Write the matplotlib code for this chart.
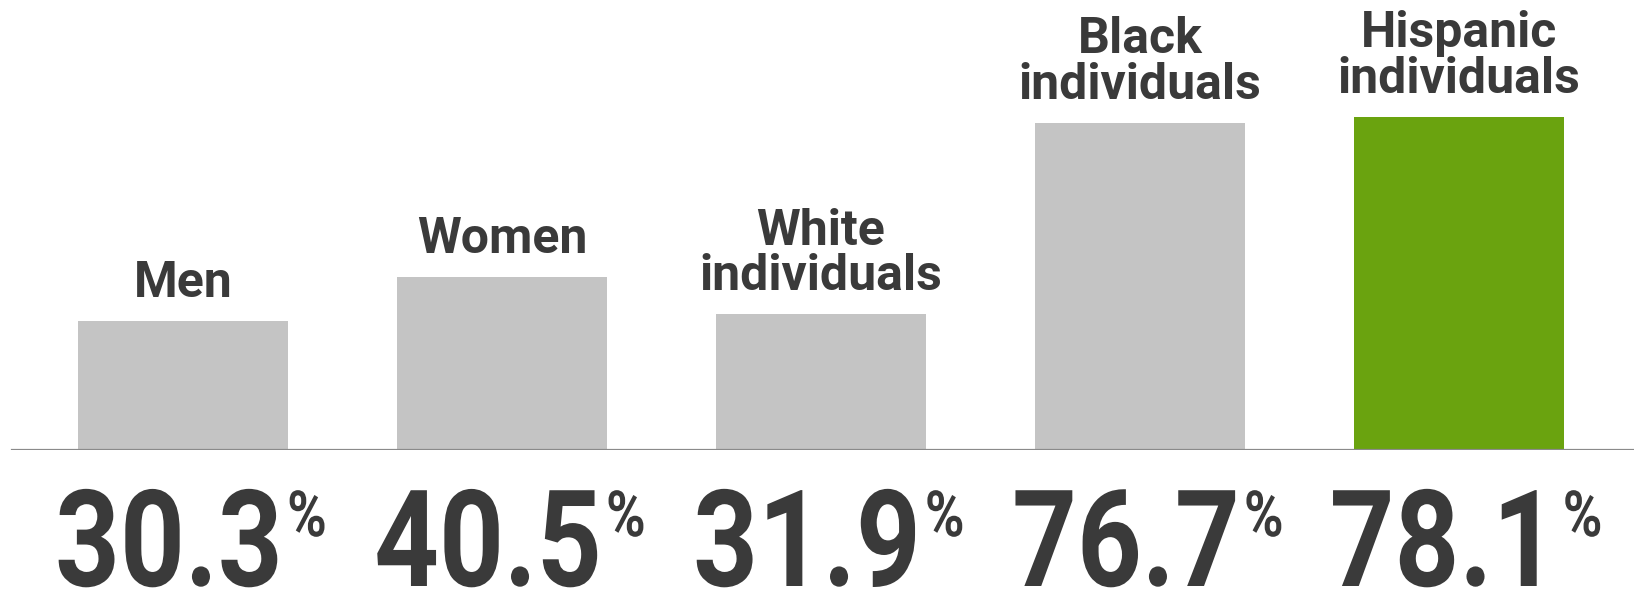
import matplotlib
matplotlib.use("Agg")
import matplotlib.pyplot as plt
from matplotlib.patheffects import AbstractPathEffect
from matplotlib.transforms import Affine2D

categories = ["Men", "Women", "White\nindividuals", "Black\nindividuals", "Hispanic\nindividuals"]
values = [30.3, 40.5, 31.9, 76.7, 78.1]
value_labels = ["30.3", "40.5", "31.9", "76.7", "78.1"]
highlight = [False, False, False, False, True]


class HCompress(AbstractPathEffect):
    """Squeeze a text horizontally about its centre (condensed look)."""

    def __init__(self, sx):
        super().__init__()
        self.sx = sx

    def draw_path(self, renderer, gc, tpath, affine, rgbFace=None):
        ext = tpath.get_extents(affine)
        cx = 0.5 * (ext.x0 + ext.x1)
        new = affine + Affine2D().translate(-cx, 0).scale(self.sx, 1).translate(cx, 0)
        renderer.draw_path(gc, tpath, new, rgbFace)


W, H, DPI = 1634, 592, 100
fig = plt.figure(figsize=(W / DPI, H / DPI), dpi=DPI)
fig.patch.set_facecolor("white")

base_px = 450  # baseline from top
ax = fig.add_axes([0, 1 - base_px / H, 1, base_px / H])
ax.set_xlim(-0.574, 4.549)
ax.set_ylim(0, 105.4)
ax.axis("off")

x = list(range(len(values)))
colors = ["#6aa30f" if h else "#c4c4c4" for h in highlight]
ax.bar(x, values, width=0.66, color=colors, zorder=2)
ax.axhline(0, xmin=12 / W, xmax=1, color="#8a8a8a", lw=1.6, zorder=3)

txt_color = "#3a3a3a"
for xi, v, c in zip(x, values, categories):
    ax.annotate(c, xy=(xi, v), xytext=(0, 24), textcoords="offset pixels",
                ha="center", va="baseline", fontsize=36, fontweight="bold",
                family="Roboto", color=txt_color, linespacing=0.95)

fig.canvas.draw()
renderer = fig.canvas.get_renderer()

SX = 0.84
num_pt, pct_pt = 97, 46
em_num = num_pt * DPI / 72
em_pct = pct_pt * DPI / 72
num_baseline_from_top = 586
gap = 4
for xi, lab in zip(x, value_labels):
    t1 = ax.annotate(lab, xy=(xi, 0), xycoords="data", xytext=(0, 0),
                     textcoords="offset pixels", ha="center", va="baseline",
                     fontsize=num_pt, fontweight="bold", family="Roboto", color=txt_color,
                     annotation_clip=False, path_effects=[HCompress(SX)])
    t2 = ax.annotate("%", xy=(xi, 0), xycoords="data", xytext=(0, 0),
                     textcoords="offset pixels", ha="center", va="baseline",
                     fontsize=pct_pt, fontweight="bold", family="Roboto", color=txt_color,
                     annotation_clip=False, path_effects=[HCompress(SX)])
    w1 = t1.get_window_extent(renderer).width * SX
    w2 = t2.get_window_extent(renderer).width * SX
    total = w1 + gap + w2
    dy_num = -(num_baseline_from_top - base_px)
    top_digits = dy_num + 0.711 * em_num
    dy_pct = top_digits - 0.72 * em_pct
    t1.xyann = (-total / 2 + w1 / 2 + 8, dy_num)
    t2.xyann = (-total / 2 + w1 + gap + w2 / 2 + 8, dy_pct)

fig.savefig("out.png", dpi=DPI, facecolor="white")
